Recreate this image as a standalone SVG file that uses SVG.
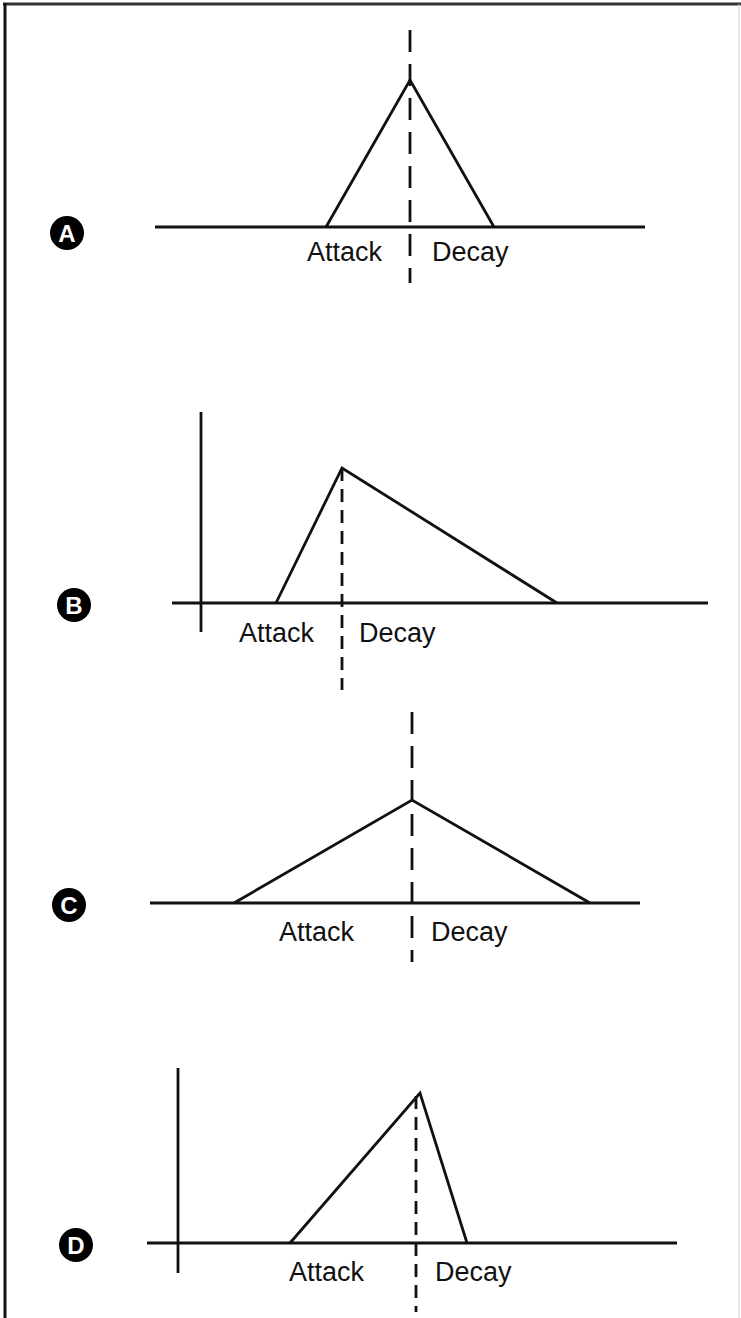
<svg xmlns="http://www.w3.org/2000/svg" width="741" height="1318" viewBox="0 0 741 1318">
<style>
.ln{stroke:#111;stroke-width:2.8;fill:none;stroke-linejoin:miter}
.dl{stroke:#111;stroke-width:2.8;fill:none;stroke-dasharray:22 12}
.ds{stroke:#111;stroke-width:2.8;fill:none;stroke-dasharray:13 8}
.lb{font-family:"Liberation Sans",Arial,sans-serif;font-size:27px;fill:#111}
.bd{fill:#000}
.bt{font-family:"Liberation Sans",Arial,sans-serif;font-size:24px;font-weight:bold;fill:#fff;text-anchor:middle}
</style>
<rect width="741" height="1318" fill="#fff"/>
<g id="frame">
<line x1="3" y1="4" x2="741" y2="4" stroke="#333" stroke-width="3"/>
<line x1="5" y1="3" x2="5" y2="1318" stroke="#111" stroke-width="3"/>
<line x1="739" y1="4" x2="739" y2="1318" stroke="#ccc" stroke-width="1"/>
</g>
<g id="panelA">
<circle class="bd" cx="67" cy="233" r="17"/>
<text class="bt" x="67" y="242">A</text>
<line class="ln" x1="155" y1="227" x2="645" y2="227"/>
<polyline class="ln" points="326,227 410,80 494,227"/>
<line class="dl" x1="410" y1="30" x2="410" y2="283"/>
<text class="lb" x="307" y="261">Attack</text>
<text class="lb" x="432" y="261">Decay</text>
</g>
<g id="panelB">
<circle class="bd" cx="74" cy="605" r="17"/>
<text class="bt" x="74" y="614">B</text>
<line class="ln" x1="201" y1="412" x2="201" y2="632"/>
<line class="ln" x1="172" y1="603" x2="708" y2="603"/>
<polyline class="ln" points="276,603 342,468 557,603"/>
<line class="ds" x1="342" y1="468" x2="342" y2="690"/>
<text class="lb" x="239" y="642">Attack</text>
<text class="lb" x="359" y="642">Decay</text>
</g>
<g id="panelC">
<circle class="bd" cx="69" cy="905" r="17"/>
<text class="bt" x="69" y="914">C</text>
<line class="ln" x1="150" y1="903" x2="640" y2="903"/>
<polyline class="ln" points="234,903 412,800 590,903"/>
<line class="dl" x1="412" y1="712" x2="412" y2="962"/>
<text class="lb" x="279" y="941">Attack</text>
<text class="lb" x="431" y="941">Decay</text>
</g>
<g id="panelD">
<circle class="bd" cx="76" cy="1245" r="17"/>
<text class="bt" x="76" y="1254">D</text>
<line class="ln" x1="178" y1="1068" x2="178" y2="1273"/>
<line class="ln" x1="147" y1="1243" x2="677" y2="1243"/>
<polyline class="ln" points="290,1243 420,1093 467,1243"/>
<line class="ds" x1="416" y1="1096" x2="416" y2="1312"/>
<text class="lb" x="289" y="1281">Attack</text>
<text class="lb" x="435" y="1281">Decay</text>
</g>
</svg>
